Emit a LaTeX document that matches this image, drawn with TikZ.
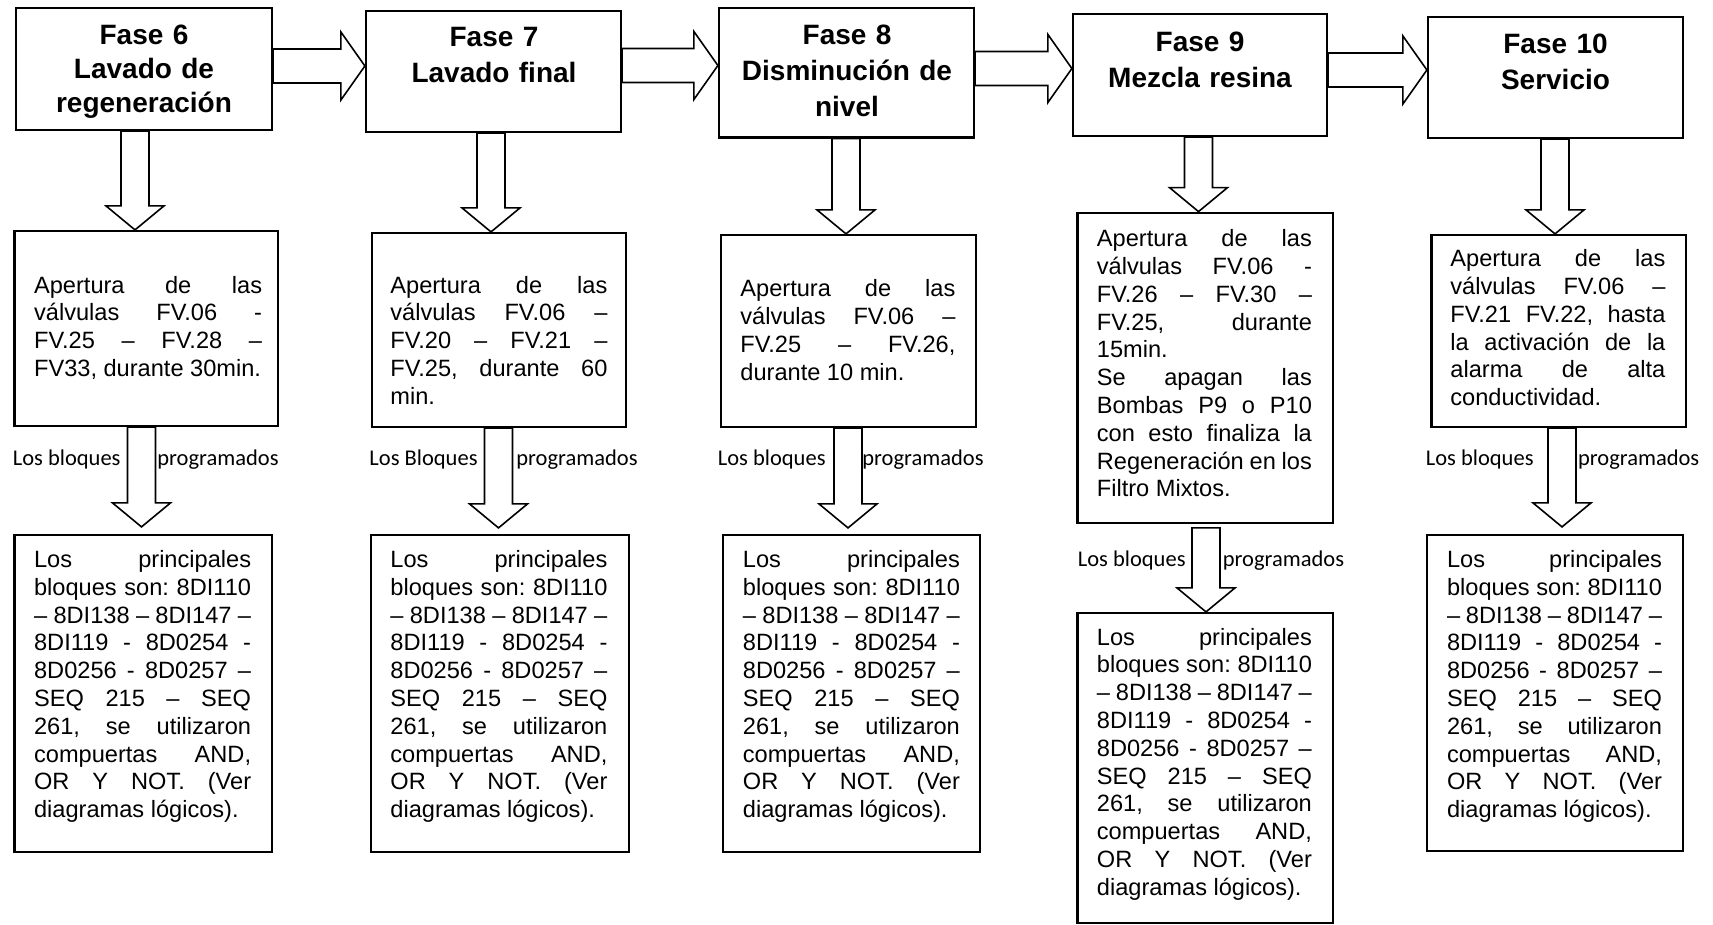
\documentclass[tikz,border=0pt]{standalone}
\usepackage{fontspec}
\setmainfont{Liberation Sans}
\newfontfamily\lblfont{Carlito}
\usetikzlibrary{fit,calc}
\frenchspacing

\newcommand\jl[1]{\makebox[\hsize][s]{#1}}
\newcommand\blockH[2]{\draw[barrow] let \p1=(#1), \p2=(#2) in
  (\x1,\y1+8.5pt) -- (\x2-12pt,\y1+8.5pt) -- (\x2-12pt,\y1+17pt) -- (\x2,\y1)
  -- (\x2-12pt,\y1-17pt) -- (\x2-12pt,\y1-8.5pt) -- (\x1,\y1-8.5pt) -- cycle;}
\newcommand\blockV[2]{\draw[barrow] let \p1=(#1), \p2=(#2) in
  (\x1-7pt,\y1) -- (\x1-7pt,\y2+12pt) -- (\x1-14.5pt,\y2+12pt) -- (\x1,\y2)
  -- (\x1+14.5pt,\y2+12pt) -- (\x1+7pt,\y2+12pt) -- (\x1+7pt,\y1) -- cycle;}
\newcommand\txtbox[2]{\parbox[t]{#1}{\raggedright #2}}

\tikzset{
  box/.style={draw=black, line width=1.1pt, inner sep=0pt, rectangle},
  ttl/.style={font=\bfseries\fontsize{14pt}{18pt}\selectfont, text width=124pt, align=center, inner sep=0pt, anchor=base},
  body/.style={font=\fontsize{11.8pt}{13.9pt}\selectfont, inner sep=0pt, anchor=base west},
  lbl/.style={font=\lblfont\fontsize{11.25pt}{13pt}\selectfont, inner sep=0pt},
  barrow/.style={draw=black, fill=white, line width=0.8pt, line join=miter},
}

\begin{document}
\begin{tikzpicture}[x=0.5pt, y=-0.5pt]
\useasboundingbox (0,0) rectangle (1713,925);

% ---------- title boxes ----------
\node[box, fit={(16,8) (272,130)}] (f6) {};
\node[box, fit={(366,11) (621,132)}] (f7) {};
\node[box, fit={(719,8) (974,137.5)}] (f8) {};
\node[box, fit={(1073,14) (1327,136)}] (f9) {};
\node[box, fit={(1428,17) (1683,138)}] (f10) {};

\node[ttl, font=\bfseries\fontsize{14pt}{17pt}\selectfont] (f6t) at (144,45) {Fase 6\\Lavado de\\regeneración};
\node[ttl] (f7t) at (494,46.5) {Fase 7\\Lavado final};
\node[ttl] (f8t) at (847,45) {Fase 8\\Disminución de\\nivel};
\node[ttl] (f9t) at (1200,51.7) {Fase 9\\Mezcla resina};
\node[ttl] (f10t) at (1555.5,53.3) {Fase 10\\Servicio};

% ---------- first text boxes ----------
\node[box, fit={(14.5,231) (278,426)}] (t6a) {};
\node[box, fit={(372,233) (626,427)}] (t7a) {};
\node[box, fit={(721,235) (976,427)}] (t8a) {};
\node[box, fit={(1077.5,212.7) (1333,522.7)}] (t9a) {};
\node[box, fit={(1431.5,235) (1686,427)}] (t10a) {};

\node[body] (t6at) at (33.7,293) {\txtbox{114pt}{%
\jl{Apertura de las}\\
\jl{válvulas FV.06 -}\\
\jl{FV.25 – FV.28 –}\\
FV33, durante 30min.}};

\node[body] (t7at) at (390,293) {\txtbox{108.5pt}{%
\jl{Apertura de las}\\
\jl{válvulas FV.06 –}\\
\jl{FV.20 – FV.21 –}\\
\jl{FV.25, durante 60}\\
min.}};

\node[body] (t8at) at (740,297) {\txtbox{107.5pt}{%
\jl{Apertura de las}\\
\jl{válvulas FV.06 –}\\
\jl{FV.25 – FV.26,}\\
durante 10 min.}};

\node[body] (t9at) at (1096.5,246.7) {\txtbox{107.5pt}{%
\jl{Apertura de las}\\
\jl{válvulas FV.06 -}\\
\jl{FV.26 – FV.30 –}\\
\jl{FV.25, durante}\\
15min.\\
\jl{Se apagan las}\\
\jl{Bombas P9 o P10}\\
\jl{con esto finaliza la}\\
\jl{Regeneración en los}\\
Filtro Mixtos.}};

\node[body] (t10at) at (1450,266.7) {\txtbox{107.5pt}{%
\jl{Apertura de las}\\
\jl{válvulas FV.06 –}\\
\jl{FV.21 FV.22, hasta}\\
\jl{la activación de la}\\
\jl{alarma de alta}\\
conductividad.}};

% ---------- second text boxes ----------
\node[box, fit={(14.5,535) (272,852)}] (t6b) {};
\node[box, fit={(371,535) (629,852)}] (t7b) {};
\node[box, fit={(723,535) (980,852)}] (t8b) {};
\node[box, fit={(1077.5,613) (1333,923)}] (t9b) {};
\node[box, fit={(1427,535) (1683,851)}] (t10b) {};

\newcommand\bloq{%
\jl{Los principales}\\
\jl{bloques son: 8DI110}\\
\jl{– 8DI138 – 8DI147 –}\\
\jl{8DI119 - 8D0254 -}\\
\jl{8D0256 - 8D0257 –}\\
\jl{SEQ 215 – SEQ}\\
\jl{261, se utilizaron}\\
\jl{compuertas AND,}\\
\jl{OR Y NOT. (Ver}\\
diagramas lógicos).}

\node[body] (t6bt) at (33.7,567.5) {\txtbox{108.5pt}{\bloq}};
\node[body] (t7bt) at (390,567.5) {\txtbox{108.5pt}{\bloq}};
\node[body] (t8bt) at (742.5,567.5) {\txtbox{108.5pt}{\bloq}};
\node[body] (t9bt) at (1096.5,645) {\txtbox{107.5pt}{\bloq}};
\node[body] (t10bt) at (1446.6,567.5) {\txtbox{107.5pt}{\bloq}};

% ---------- labels ----------
\node[lbl, anchor=base east] (l6a) at (121,465) {Los bloques};
\node[lbl, anchor=base west] (l6b) at (157,465) {programados};
\node[lbl, anchor=base east] (l7a) at (478,465) {Los Bloques};
\node[lbl, anchor=base west] (l7b) at (516,465) {programados};
\node[lbl, anchor=base east] (l8a) at (826,465) {Los bloques};
\node[lbl, anchor=base west] (l8b) at (862,465) {programados};
\node[lbl, anchor=base east] (l9a) at (1186,566.7) {Los bloques};
\node[lbl, anchor=base west] (l9b) at (1222.5,566.7) {programados};
\node[lbl, anchor=base east] (l10a) at (1534,465) {Los bloques};
\node[lbl, anchor=base west] (l10b) at (1577.7,465) {programados};

% ---------- reference levels for arrows ----------
\coordinate (h67) at (0,66);
\coordinate (h78) at (0,65.5);
\coordinate (h89) at (0,68.5);
\coordinate (h910) at (0,70);
\coordinate (v6) at (135,0);
\coordinate (v7) at (491,0);
\coordinate (v8) at (846,0);
\coordinate (v9) at (1198.5,0);
\coordinate (v10) at (1555,0);
\coordinate (w6) at (141.5,0);
\coordinate (w7) at (498.5,0);
\coordinate (w8) at (848,0);
\coordinate (w9) at (1206,0);
\coordinate (w10) at (1562,0);

% ---------- horizontal block arrows ----------
\blockH{f6.east |- h67}{f7.west |- h67}
\blockH{f7.east |- h78}{f8.west |- h78}
\blockH{f8.east |- h89}{f9.west |- h89}
\blockH{f9.east |- h910}{f10.west |- h910}

% ---------- vertical block arrows ----------
\blockV{f6.south -| v6}{t6a.north -| v6}
\blockV{f7.south -| v7}{t7a.north -| v7}
\blockV{f8.south -| v8}{t8a.north -| v8}
\blockV{f9.south -| v9}{t9a.north -| v9}
\blockV{f10.south -| v10}{t10a.north -| v10}

\blockV{t6a.south -| w6}{$(t6b.north -| w6)+(0,-7)$}
\blockV{t7a.south -| w7}{$(t7b.north -| w7)+(0,-6)$}
\blockV{t8a.south -| w8}{$(t8b.north -| w8)+(0,-6)$}
\blockV{$(t9a.south -| w9)+(0,4)$}{t9b.north -| w9}
\blockV{t10a.south -| w10}{$(t10b.north -| w10)+(0,-7)$}
\end{tikzpicture}
\end{document}
